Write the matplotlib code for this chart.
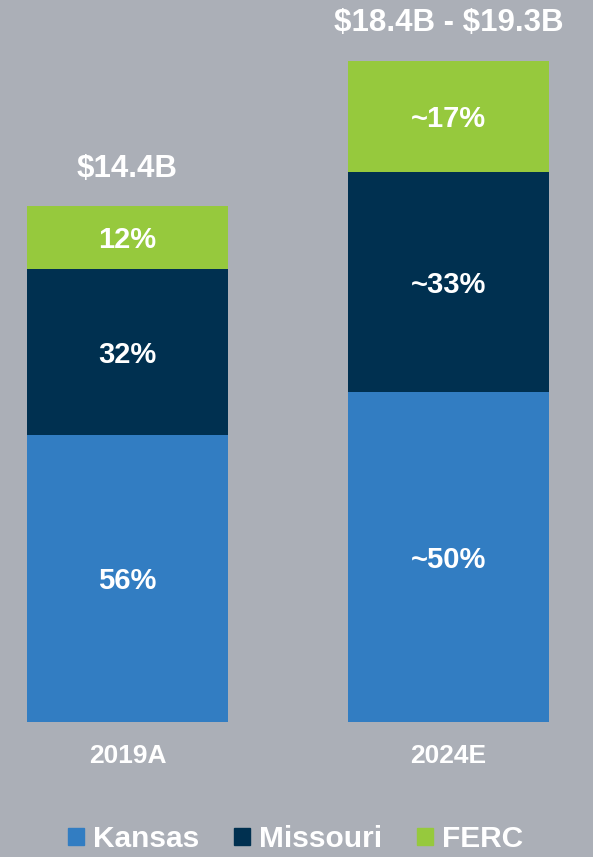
#!/usr/bin/env python3
"""Stacked bars: rate base by jurisdiction, 2019A vs 2024E."""
import matplotlib.pyplot as plt
from matplotlib.patches import Patch

plt.rcParams["font.family"] = ["Liberation Sans", "DejaVu Sans"]
plt.rcParams["font.weight"] = "bold"

# data ($B per segment)
years = ["2019A", "2024E"]
kansas = [8.0, 9.2]
missouri = [4.65, 6.15]
ferc = [1.75, 3.1]
kansas_lbl = ["56%", "~50%"]
missouri_lbl = ["32%", "~33%"]
ferc_lbl = ["12%", "~17%"]
totals_lbl = ["\\$14.4B", "\\$18.4B - \\$19.3B"]

BG = "#abafb7"
C_KS = "#327dc2"
C_MO = "#003050"
C_FERC = "#96c93d"


def main(out_path="out.png"):
    fig = plt.figure(figsize=(5.93, 8.57), dpi=100, facecolor=BG)
    ax = fig.add_axes([0, 0.1575, 1, 0.8425])
    ax.set_facecolor(BG)
    x = list(range(len(years)))
    w = 0.626

    b1 = ax.bar(x, kansas, w, color=C_KS)
    b2 = ax.bar(x, missouri, w, bottom=kansas, color=C_MO)
    bottom3 = [a + b for a, b in zip(kansas, missouri)]
    b3 = ax.bar(x, ferc, w, bottom=bottom3, color=C_FERC)

    for bars, labels in ((b1, kansas_lbl), (b2, missouri_lbl), (b3, ferc_lbl)):
        ax.bar_label(bars, labels=labels, label_type="center", color="white",
                     fontsize=21, fontweight="bold", padding=-2)

    tops = [a + b for a, b in zip(bottom3, ferc)]
    for xi, t, lbl in zip(x, tops, totals_lbl):
        ax.annotate(lbl, (xi, t), xytext=(0, 27), textcoords="offset points",
                    ha="center", va="center", color="white", fontsize=22.5,
                    fontweight="bold")

    ax.set_xlim(-0.397, 1.450)
    ax.set_ylim(0, 20.15)
    ax.set_xticks(x)
    ax.set_xticklabels(years, color="white", fontsize=19, fontweight="bold")
    ax.tick_params(axis="x", length=0, pad=16)
    ax.set_yticks([])
    for s in ax.spines.values():
        s.set_visible(False)

    handles = [Patch(color=C_KS, label="Kansas"),
               Patch(color=C_MO, label="Missouri"),
               Patch(color=C_FERC, label="FERC")]
    leg = fig.legend(handles=handles, loc="center", bbox_to_anchor=(0.498, 0.021),
                     ncol=3, frameon=False, fontsize=21.5, handlelength=0.54,
                     handleheight=0.54, handletextpad=0.3, columnspacing=1.17)
    for t in leg.get_texts():
        t.set_color("white")
        t.set_fontweight("bold")

    fig.savefig(out_path, dpi=100, facecolor=BG)


if __name__ == "__main__":
    main()
